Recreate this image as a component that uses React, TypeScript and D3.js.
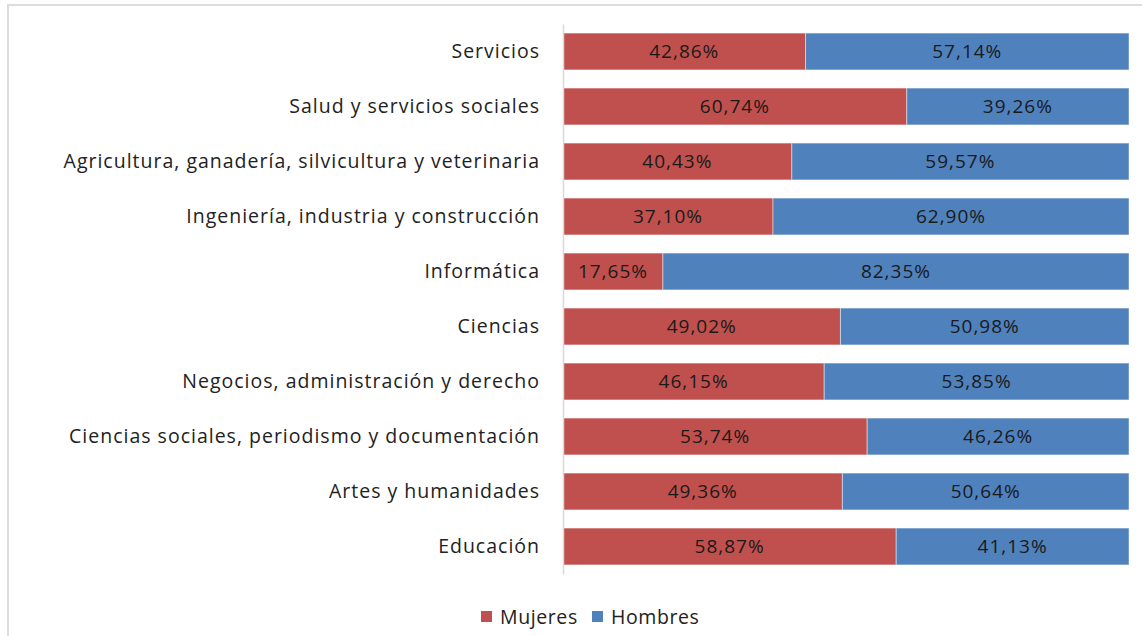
import React, { useRef, useEffect } from 'react';
import * as d3 from 'd3';

const categories = [
  'Servicios',
  'Salud y servicios sociales',
  'Agricultura, ganadería, silvicultura y veterinaria',
  'Ingeniería, industria y construcción',
  'Informática',
  'Ciencias',
  'Negocios, administración y derecho',
  'Ciencias sociales, periodismo y documentación',
  'Artes y humanidades',
  'Educación',
];
const mujeres = [42.86, 60.74, 40.43, 37.1, 17.65, 49.02, 46.15, 53.74, 49.36, 58.87];
const hombres = [57.14, 39.26, 59.57, 62.9, 82.35, 50.98, 53.85, 46.26, 50.64, 41.13];
const seriesNames = ['Mujeres', 'Hombres'];
const seriesColors = ['#C0504D', '#4F81BD'];

const FONT = '"Open Sans", "Noto Sans", sans-serif';

const App = () => {
  const svgRef = useRef(null);

  useEffect(() => {
    document.body.style.margin = '0';
    const width = 1142;
    const height = 636;
    const margin = { left: 563, right: 13, top: 24, bottom: 62 };

    const svg = d3.select(svgRef.current).attr('width', width).attr('height', height);
    svg.selectAll('*').remove();

    // chart frame (only top and left edges are inside the picture)
    svg
      .append('rect')
      .attr('x', 8)
      .attr('y', 5)
      .attr('width', 1200)
      .attr('height', 700)
      .attr('fill', '#fff')
      .attr('stroke', '#dcdcdc')
      .attr('stroke-width', 2);

    const rows = categories.map((c, i) => ({ cat: c, Mujeres: mujeres[i], Hombres: hombres[i] }));
    const stacked = d3.stack().keys(seriesNames)(rows as any);

    const x = d3.scaleLinear().domain([0, 100]).range([margin.left, width - margin.right]);
    const y = d3
      .scaleBand()
      .domain(categories)
      .range([margin.top, height - margin.bottom])
      .paddingInner(0.33)
      .paddingOuter(0.165);

    const fmt = d3.formatLocale({ decimal: ',', thousands: '.', grouping: [3], currency: ['', '€'] }).format('.2f');

    const g = svg.append('g');
    stacked.forEach((layer, si) => {
      const lg = g.append('g');
      lg.selectAll('rect')
        .data(layer)
        .enter()
        .append('rect')
        .attr('x', (d) => x(d[0]))
        .attr('y', (d) => y(d.data.cat as any))
        .attr('width', (d) => x(d[1]) - x(d[0]))
        .attr('height', y.bandwidth())
        .attr('fill', seriesColors[si])
        .attr('stroke', 'rgba(255,255,255,0.45)')
        .attr('stroke-width', 1);
      lg.selectAll('text')
        .data(layer)
        .enter()
        .append('text')
        .attr('x', (d) => (x(d[0]) + x(d[1])) / 2)
        .attr('y', (d) => (y(d.data.cat as any) as number) + y.bandwidth() / 2)
        .attr('dy', '0.36em')
        .attr('text-anchor', 'middle')
        .attr('font-family', FONT)
        .attr('font-size', 19)
        .attr('letter-spacing', 1)
        .attr('fill', '#1a1a1a')
        .text((d) => fmt(d[1] - d[0]) + '%');
    });

    // category axis
    const axis = svg
      .append('g')
      .attr('transform', `translate(${margin.left},0)`)
      .call(d3.axisLeft(y).tickSize(0).tickPadding(23));
    axis.select('.domain').attr('stroke', '#d9d9d9').attr('stroke-width', 1.5);
    axis
      .selectAll('text')
      .attr('font-family', FONT)
      .attr('font-size', 19.5)
      .attr('letter-spacing', 1)
      .attr('fill', '#222');

    // legend
    const legend = svg.append('g').attr('transform', 'translate(481,617)');
    const offsets = [0, 111];
    seriesNames.forEach((name, i) => {
      const lg = legend.append('g').attr('transform', `translate(${offsets[i]},0)`);
      lg.append('rect').attr('x', 0).attr('y', -6).attr('width', 11).attr('height', 11).attr('fill', seriesColors[i]);
      lg.append('text')
        .attr('x', 19)
        .attr('y', 0)
        .attr('dy', '0.36em')
        .attr('font-family', FONT)
        .attr('font-size', 19.5)
        .attr('letter-spacing', 0.6)
        .attr('fill', '#222')
        .text(name);
    });
  }, []);

  return <svg ref={svgRef} style={{ display: 'block' }}></svg>;
};

export default App;
